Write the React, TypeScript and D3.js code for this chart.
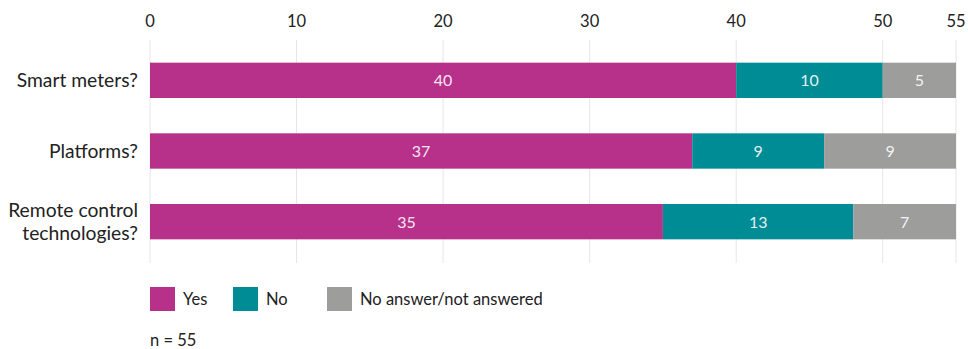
import React from "react";
import * as d3 from "d3";

const categories = ["Smart meters?", "Platforms?", "Remote control technologies?"];
const categoryLines = [["Smart meters?"], ["Platforms?"], ["Remote control", "technologies?"]];
const yesValues = [40, 37, 35];
const noValues = [10, 9, 13];
const naValues = [5, 9, 7];
const seriesNames = ["Yes", "No", "No answer/not answered"];
const seriesColors = ["#B7318A", "#008C95", "#9D9D9C"];
const tickValues = [0, 10, 20, 30, 40, 50, 55];
const note = "n = 55";

const FONT = "'Source Sans Pro', Lato, 'Open Sans', sans-serif";

export default function App() {
  const W = 968, H = 349;
  const x = d3.scaleLinear().domain([0, 55]).range([150, 956]);
  const y = d3.scaleBand<string>().domain(categories).range([45, 257]).paddingInner(0.5).paddingOuter(0.25);
  const rows = categories.map((c, i) => ({ c, vals: [yesValues[i], noValues[i], naValues[i]] }));
  const legendX = [150, 233, 327];
  return (
    <svg width={W} height={H} style={{ position: "absolute", left: 0, top: 0 }} fontFamily={FONT}>
      {tickValues.map((t) => (
        <g key={t}>
          <line x1={x(t)} x2={x(t)} y1={40} y2={263} stroke="#e6e6e6" strokeWidth={1} />
          <text x={x(t)} y={27} textAnchor="middle" fontSize={16.5} fill="#222">{t}</text>
        </g>
      ))}
      {rows.map((r, i) => {
        let acc = 0;
        const y0 = y(r.c)!;
        const bw = y.bandwidth();
        const lines = categoryLines[i];
        return (
          <g key={r.c}>
            {r.vals.map((v, j) => {
              const x0 = x(acc);
              acc += v;
              const x1 = x(acc);
              return (
                <g key={j}>
                  <rect x={x0} y={y0} width={x1 - x0} height={bw} fill={seriesColors[j]} />
                  <text x={(x0 + x1) / 2} y={y0 + bw / 2 + 6} textAnchor="middle" fontSize={16} fill="#fff" fillOpacity={0.9}>{v}</text>
                </g>
              );
            })}
            {lines.map((l, k) => (
              <text key={k} x={138} y={y0 + bw / 2 + 7 + (k - (lines.length - 1) / 2) * 23} textAnchor="end" fontSize={19.3} fill="#222">{l}</text>
            ))}
          </g>
        );
      })}
      {seriesNames.map((s, i) => (
        <g key={s}>
          <rect x={legendX[i]} y={287} width={25} height={24} fill={seriesColors[i]} />
          <text x={legendX[i] + 33} y={305} fontSize={16.5} fill="#222">{s}</text>
        </g>
      ))}
      <text x={150} y={346} fontSize={16.5} fill="#222">{note}</text>
    </svg>
  );
}
